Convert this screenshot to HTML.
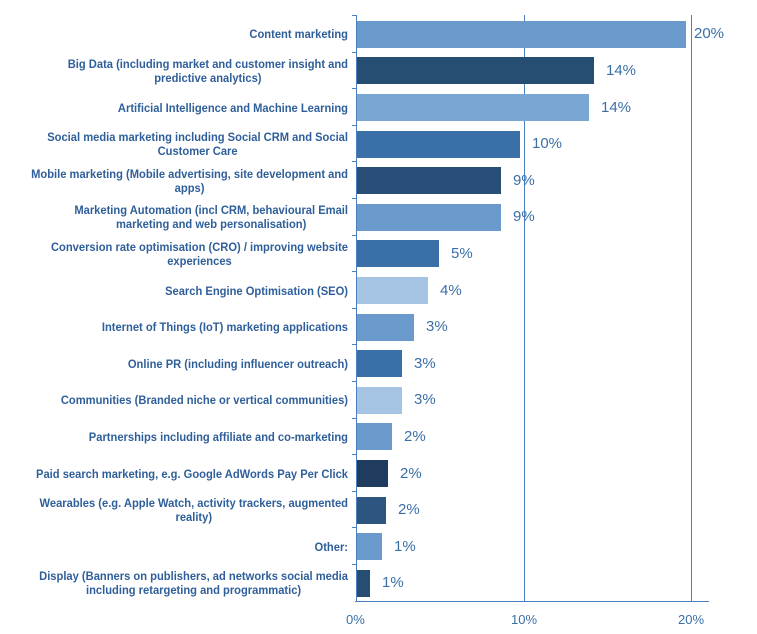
<!DOCTYPE html>
<html><head><style>
body{margin:0;background:#fff;width:757px;height:634px;overflow:hidden;position:relative;font-family:"Liberation Sans",sans-serif}
.lab{position:absolute;right:409px;width:500px;text-align:right;font-weight:bold;font-size:12px;line-height:14px;color:#2f5f9a;transform:scaleX(0.93);transform-origin:right center;white-space:nowrap}
.lab span{display:inline-block;text-align:center}
.bar{position:absolute;left:357px;height:27px}
.val{position:absolute;font-size:15px;color:#3a6fa8;line-height:16px}
.ax{position:absolute;background:#4a7fc0}
.tk{position:absolute;font-size:13px;color:#3a6fa8;top:612px}
</style></head><body>
<div class="ax" style="left:356px;top:15px;width:1px;height:587px"></div>
<div class="ax" style="left:524px;top:15px;width:1px;height:587px"></div>
<div class="ax" style="left:691px;top:15px;width:1px;height:587px"></div>
<div class="ax" style="left:355px;top:601px;width:354px;height:1px"></div>
<div class="tk" style="left:346px">0%</div>
<div class="tk" style="left:511px">10%</div>
<div class="tk" style="left:678px">20%</div>
<div id="c"></div>
<script>
var d=[
["Content marketing","",686,"#6a9acb","20%"],
["Big Data (including market and customer insight and","predictive analytics)",594,"#264d72","14%"],
["Artificial Intelligence and Machine Learning","",589,"#7aa6d3","14%"],
["Social media marketing including Social CRM and Social","Customer Care",520,"#3a6fa8","10%"],
["Mobile marketing (Mobile advertising, site development and","apps)",501,"#294e78","9%"],
["Marketing Automation (incl CRM, behavioural Email","marketing and web personalisation)",501,"#6a9acb","9%"],
["Conversion rate optimisation (CRO) / improving website","experiences",439,"#3a6fa8","5%"],
["Search Engine Optimisation (SEO)","",428,"#a5c3e3","4%"],
["Internet of Things (IoT) marketing applications","",414,"#6a9acb","3%"],
["Online PR (including influencer outreach)","",402,"#3a6fa8","3%"],
["Communities (Branded niche or vertical communities)","",402,"#a5c3e3","3%"],
["Partnerships including affiliate and co-marketing","",392,"#6a9acb","2%"],
["Paid search marketing, e.g. Google AdWords Pay Per Click","",388,"#1f3c5e","2%"],
["Wearables (e.g. Apple Watch, activity trackers, augmented","reality)",386,"#2c5580","2%"],
["Other:","",382,"#6a9acb","1%"],
["Display (Banners on publishers, ad networks social media","including retargeting and programmatic)",370,"#264d72","1%"]];
var h="";
d.forEach(function(r,i){
 var c=15+36.6*(i+0.5)+1;
 var t=r[1]?r[0]+"<br>"+r[1]:r[0];
 var lh=r[1]?28:14;
 h+='<div class="lab" style="top:'+(c-lh/2)+'px"><span>'+t+'</span></div>';
 h+='<div class="bar" style="top:'+(c-13.5)+'px;width:'+(r[2]-357)+'px;background:'+r[3]+'"></div>';
 h+='<div class="val" style="top:'+(c-8)+'px;left:'+(r[2]+(i==0?8:12))+'px">'+r[4]+'</div>';
 h+='<div class="ax" style="left:352px;top:'+(15+36.6*i)+'px;width:4px;height:1px"></div>';
});
document.getElementById("c").innerHTML=h;
</script>
</body></html>
